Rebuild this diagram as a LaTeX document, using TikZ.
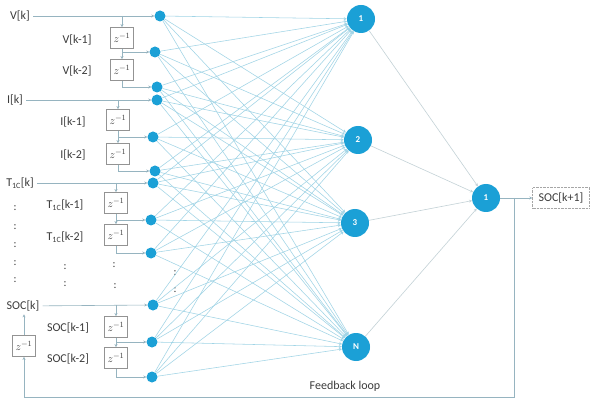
\documentclass[tikz,border=0pt]{standalone}
\usepackage{fontspec}
\setmainfont{Carlito}
\usetikzlibrary{arrows.meta}
\definecolor{nblue}{RGB}{27,160,214}
\definecolor{wblue}{RGB}{160,212,230}
\definecolor{wgray}{RGB}{150,180,192}
\definecolor{lgray}{RGB}{196,210,215}
\definecolor{tgray}{RGB}{60,60,60}
\tikzset
{
    % Style for the small input neurons
    input neuron/.style=
    {
        circle,
        fill=nblue,
        minimum size=11pt,
        inner sep=0pt
    },
    % Style for the big neurons (hidden and output layer)
    neuron/.style=
    {
        circle,
        fill=nblue,
        minimum size=28pt,
        inner sep=0pt,
        text=white,
        font=\fontsize{9}{10}\selectfont\bfseries
    },
    % Style for the signal names
    signal/.style=
    {
        text=tgray,
        inner sep=3pt,
        font=\fontsize{12}{14}\selectfont
    },
    % Style for a unit delay
    delay/.style=
    {
        draw=gray!85,
        line width=0.8pt,
        minimum width=23pt,
        minimum height=21pt,
        inner sep=0pt,
        text=tgray,
        font=\fontsize{11}{12}\selectfont
    },
    % Style for the plain wiring
    wire/.style=
    {
        wgray,
        line width=0.6pt,
        -{Stealth[length=3pt,width=3pt]}
    },
    % Style for the weighted connections
    weight/.style=
    {
        wblue,
        line width=0.55pt,
        -{Stealth[length=3pt,width=3pt]}
    },
    % Style for the links to the output neuron
    link/.style=
    {
        lgray,
        line width=0.6pt,
        -{Stealth[length=3pt,width=3pt]}
    },
    % Style for the dots between the inputs
    gap/.style=
    {
        text=tgray,
        inner sep=0pt,
        font=\fontsize{11}{12}\selectfont
    }
}

\begin{document}
\begin{tikzpicture}[x=1pt,y=-1pt]
    % Fix the bounding box
    \path [use as bounding box, fill=white] (0,0) rectangle (591,403);

    % Signal names
    \node (lv0) [signal] at (20,16) {V[k]};
    \node (lv1) [signal] at (77,40) {V[k-1]};
    \node (lv2) [signal] at (77,71) {V[k-2]};
    \node (li0) [signal] at (15,100) {I[k]};
    \node (li1) [signal] at (73,122) {I[k-1]};
    \node (li2) [signal] at (73,155) {I[k-2]};
    \node (lt0) [signal] at (20,183) {T\textsubscript{1C}[k]};
    \node (lt1) [signal] at (65,205) {T\textsubscript{1C}[k-1]};
    \node (lt2) [signal] at (65,237) {T\textsubscript{1C}[k-2]};
    \node (ls0) [signal] at (23,306) {SOC[k]};
    \node (ls1) [signal] at (68,328) {SOC[k-1]};
    \node (ls2) [signal] at (68,359) {SOC[k-2]};

    % Input neurons
    \node (v0) [input neuron] at (160,16) {};
    \node (v1) [input neuron] at (155,52) {};
    \node (v2) [input neuron] at (157,87) {};
    \node (i0) [input neuron] at (157,100) {};
    \node (i1) [input neuron] at (153,137) {};
    \node (i2) [input neuron] at (155,171) {};
    \node (t0) [input neuron] at (153,183) {};
    \node (t1) [input neuron] at (151,220) {};
    \node (t2) [input neuron] at (151,253) {};
    \node (s0) [input neuron] at (153,305) {};
    \node (s1) [input neuron] at (152,342) {};
    \node (s2) [input neuron] at (152,377) {};

    % Unit delays
    \node (dv1) [delay] at (122,38) {$z^{-1}$};
    \node (dv2) [delay] at (122,70) {$z^{-1}$};
    \node (di1) [delay] at (118,120) {$z^{-1}$};
    \node (di2) [delay] at (118,154) {$z^{-1}$};
    \node (dt1) [delay] at (116,203) {$z^{-1}$};
    \node (dt2) [delay] at (116,235) {$z^{-1}$};
    \node (ds1) [delay] at (116,327) {$z^{-1}$};
    \node (ds2) [delay] at (116,358) {$z^{-1}$};
    \node (df) [delay] at (24,346) {$z^{-1}$};

    % Hidden layer
    \node (h1) [neuron] at (361,19) {1};
    \node (h2) [neuron] at (358,140) {2};
    \node (h3) [neuron] at (355,223) {3};
    \node (hN) [neuron] at (356,347) {N};

    % Output layer
    \node (out) [neuron] at (486,198) {1};
    \node (next) [signal, draw=gray!70, densely dotted, minimum height=21pt,
                  minimum width=57pt] at (561,198) {SOC[k+1]};

    % Dots for the left out inputs
    \foreach \y [count=\i] in {208,227,245,263,280}
        \node (ga\i) [gap] at (15,\y) {:};
    \node (gb1) [gap] at (65,267) {:};
    \node (gb2) [gap] at (65,284) {:};
    \node (gc1) [gap] at (114,265) {:};
    \node (gc2) [gap] at (115,286) {:};
    \node (gd1) [gap] at (175,273) {:};
    \node (gd2) [gap] at (175,290) {:};

    % Tapped delay lines
    \foreach \g in {v,i,t,s}
    {
        \draw[wire] (l\g0) -- (\g0);
        \draw[wire] (d\g1.north |- \g0) -- (d\g1.north);
        \draw[wire] (d\g1.south) |- (\g1);
        \draw[wire] (d\g1.south |- \g1) -- (d\g2.north);
        \draw[wire] (d\g2.south) |- (\g2);
    }

    % Weights input -> hidden
    \foreach \a in {v0,v1,v2,i0,i1,i2,t0,t1,t2,s0,s1,s2}
        \foreach \b in {h1,h2,h3,hN}
            \draw[weight] (\a) -- (\b);

    % Weights hidden -> output
    \foreach \b in {h1,h2,h3,hN}
        \draw[link] (\b) -- (out);

    % Output and feedback loop
    \draw[wire] (out) -- (next);
    \coordinate (fb) at (514,198);
    \coordinate (fbbot) at (514,397);
    \draw[wire] (fb) -- (fbbot) -| (df.south);
    \draw[wire] (df.north) -- (df.north |- ls0.south);
    \node (fbtext) [signal] at (345,386) {Feedback loop};

\end{tikzpicture}
\end{document}
